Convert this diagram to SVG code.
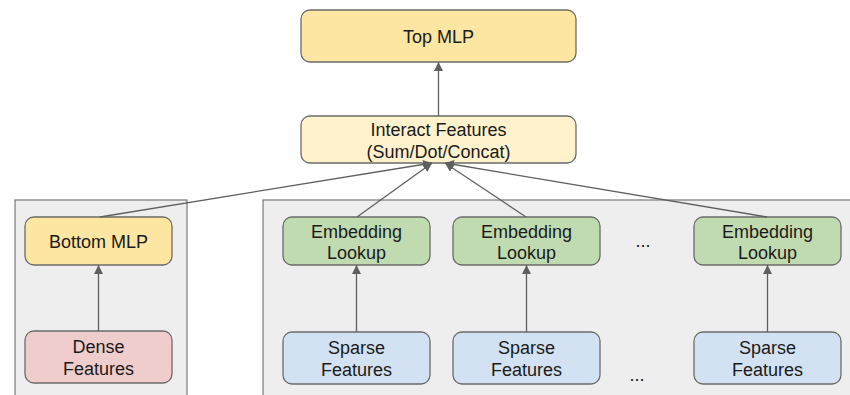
<svg xmlns="http://www.w3.org/2000/svg" width="850" height="395" viewBox="0 0 850 395">
<style>
.panel{fill:#eeeeee;stroke:#7a7a7a;stroke-width:1.2}
.node{stroke:#6b6b6b;stroke-width:1.3}
.yel{fill:#fde5a2}
.lyel{fill:#fff2cc}
.red{fill:#f0cdcd}
.grn{fill:#c1dbb1}
.blu{fill:#d3e2f2}
text{font-family:"Liberation Sans",Arial,sans-serif;font-size:18px;fill:#1a1a1a;text-anchor:middle}
.conn{stroke:#5f5f5f;stroke-width:1.3;fill:none}
</style>
<defs>
<marker id="ah" viewBox="0 0 10 10" refX="10" refY="5" markerWidth="9" markerHeight="9" markerUnits="userSpaceOnUse" orient="auto">
<path d="M0,0 L10,5 L0,10 z" fill="#5f5f5f"/>
</marker>
</defs>
<rect class="panel" x="15" y="200" width="172" height="200"/>
<rect class="panel" x="263" y="200" width="600" height="200"/>
<g id="top-mlp"><rect class="node yel" x="301" y="10" width="275" height="52" rx="9"/><text x="438.5" y="43">Top MLP</text></g>
<g id="interact"><rect class="node lyel" x="301" y="116" width="275" height="47" rx="9"/><text x="438.5" y="136">Interact Features</text><text x="438.5" y="158">(Sum/Dot/Concat)</text></g>
<g id="bottom-mlp"><rect class="node yel" x="25" y="217" width="147" height="48" rx="9"/><text x="98.5" y="248">Bottom MLP</text></g>
<g id="dense"><rect class="node red" x="25" y="331" width="147" height="52" rx="9"/><text x="98.5" y="353">Dense</text><text x="98.5" y="375">Features</text></g>
<g id="emb1"><rect class="node grn" x="283" y="217" width="147" height="48" rx="9"/><text x="356.5" y="238">Embedding</text><text x="356.5" y="259">Lookup</text></g>
<g id="emb2"><rect class="node grn" x="453" y="217" width="147" height="48" rx="9"/><text x="526.5" y="238">Embedding</text><text x="526.5" y="259">Lookup</text></g>
<g id="emb3"><rect class="node grn" x="694" y="217" width="147" height="48" rx="9"/><text x="767.5" y="238">Embedding</text><text x="767.5" y="259">Lookup</text></g>
<g id="sparse1"><rect class="node blu" x="283" y="332" width="147" height="52" rx="9"/><text x="356.5" y="354">Sparse</text><text x="356.5" y="376">Features</text></g>
<g id="sparse2"><rect class="node blu" x="453" y="332" width="147" height="52" rx="9"/><text x="526.5" y="354">Sparse</text><text x="526.5" y="376">Features</text></g>
<g id="sparse3"><rect class="node blu" x="694" y="332" width="147" height="52" rx="9"/><text x="767.5" y="354">Sparse</text><text x="767.5" y="376">Features</text></g>
<g id="ellipsis"><text x="643" y="247">...</text><text x="637" y="381">...</text></g>
<g id="connectors">
<line class="conn" x1="438.5" y1="116" x2="438.5" y2="62" marker-end="url(#ah)"/>
<line class="conn" x1="98.5" y1="331" x2="98.5" y2="265" marker-end="url(#ah)"/>
<line class="conn" x1="356.5" y1="332" x2="356.5" y2="265" marker-end="url(#ah)"/>
<line class="conn" x1="526.5" y1="332" x2="526.5" y2="265" marker-end="url(#ah)"/>
<line class="conn" x1="767.5" y1="332" x2="767.5" y2="265" marker-end="url(#ah)"/>
<line class="conn" x1="100" y1="217" x2="432" y2="163" marker-end="url(#ah)"/>
<line class="conn" x1="357" y1="217" x2="432" y2="163" marker-end="url(#ah)"/>
<line class="conn" x1="526" y1="217" x2="445" y2="163" marker-end="url(#ah)"/>
<line class="conn" x1="767" y1="217" x2="445" y2="163" marker-end="url(#ah)"/>
</g>
</svg>
